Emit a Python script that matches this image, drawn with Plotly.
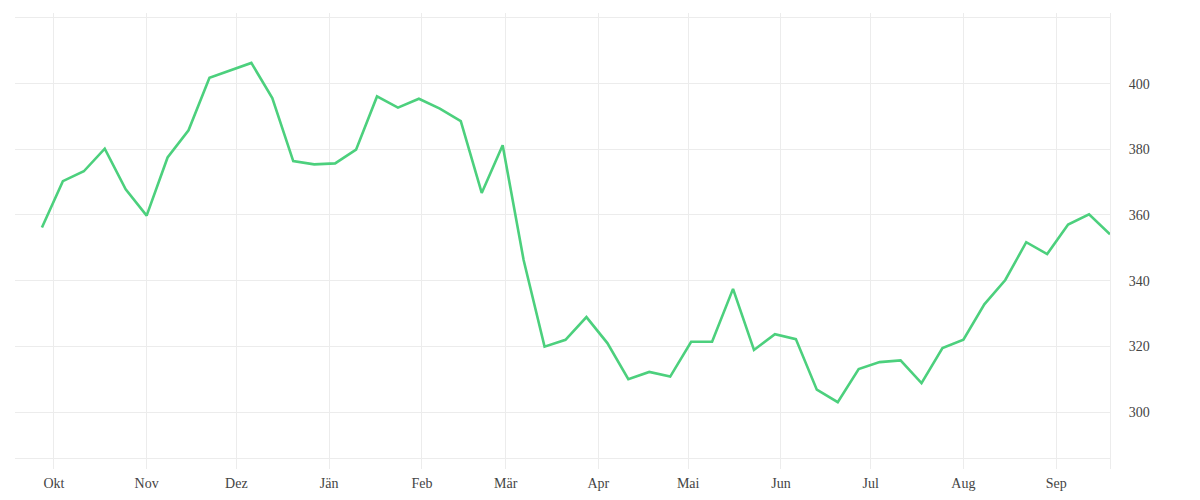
import plotly.graph_objects as go
import pandas as pd

dates = pd.date_range("2018-09-27", periods=52, freq="7D").strftime("%Y-%m-%d").tolist()
values = [356.2, 370.3, 373.3, 380.2, 367.8, 359.8, 377.5, 385.8, 401.8, 404.0,
          406.3, 395.6, 376.4, 375.4, 375.7, 379.9, 396.1, 392.7, 395.4, 392.4,
          388.6, 366.7, 381.2, 346.3, 319.9, 322.0, 328.9, 321.0, 310.0, 312.2,
          310.8, 321.4, 321.4, 337.5, 318.9, 323.7, 322.2, 306.8, 303.0, 313.1,
          315.2, 315.7, 308.8, 319.5, 322.0, 332.8, 340.2, 351.7, 348.1, 357.1,
          360.2, 354.1]

month_ticks = ["2018-10-01", "2018-11-01", "2018-12-01", "2019-01-01", "2019-02-01",
               "2019-03-01", "2019-04-01", "2019-05-01", "2019-06-01", "2019-07-01",
               "2019-08-01", "2019-09-01", "2019-09-19"]
month_labels = ["Okt", "Nov", "Dez", "Jän", "Feb", "Mär", "Apr", "Mai", "Jun", "Jul",
                "Aug", "Sep", ""]
y_ticks = [300, 320, 340, 360, 380, 400, 420]
y_labels = ["300", "320", "340", "360", "380", "400", ""]

grid = "#ececec"
font = dict(family="Liberation Serif, DejaVu Serif, serif", size=14, color="#444")

fig = go.Figure(go.Scatter(x=dates, y=values, mode="lines",
                           line=dict(color="#4cd07d", width=2.6),
                           hoverinfo="x+y"))

fig.update_layout(
    width=1200, height=500,
    margin=dict(l=7, r=98, t=5, b=50),
    plot_bgcolor="white", paper_bgcolor="white",
    showlegend=False, font=font,
    xaxis=dict(range=["2018-09-18", "2019-09-19"], tickvals=month_ticks,
               ticktext=month_labels, showgrid=True, gridcolor=grid, gridwidth=1,
               ticks="outside", ticklen=10, tickcolor=grid, showline=True,
               linecolor=grid, linewidth=1, zeroline=False, tickfont=font,
               ticklabelstandoff=2),
    yaxis=dict(range=[286, 421.5], side="right", tickvals=y_ticks, ticktext=y_labels,
               showgrid=True, gridcolor=grid, gridwidth=1, showline=True,
               linecolor=grid, linewidth=1, ticks="", zeroline=False, tickfont=font,
               ticklabelstandoff=15),
)

fig.write_html("out.html")
